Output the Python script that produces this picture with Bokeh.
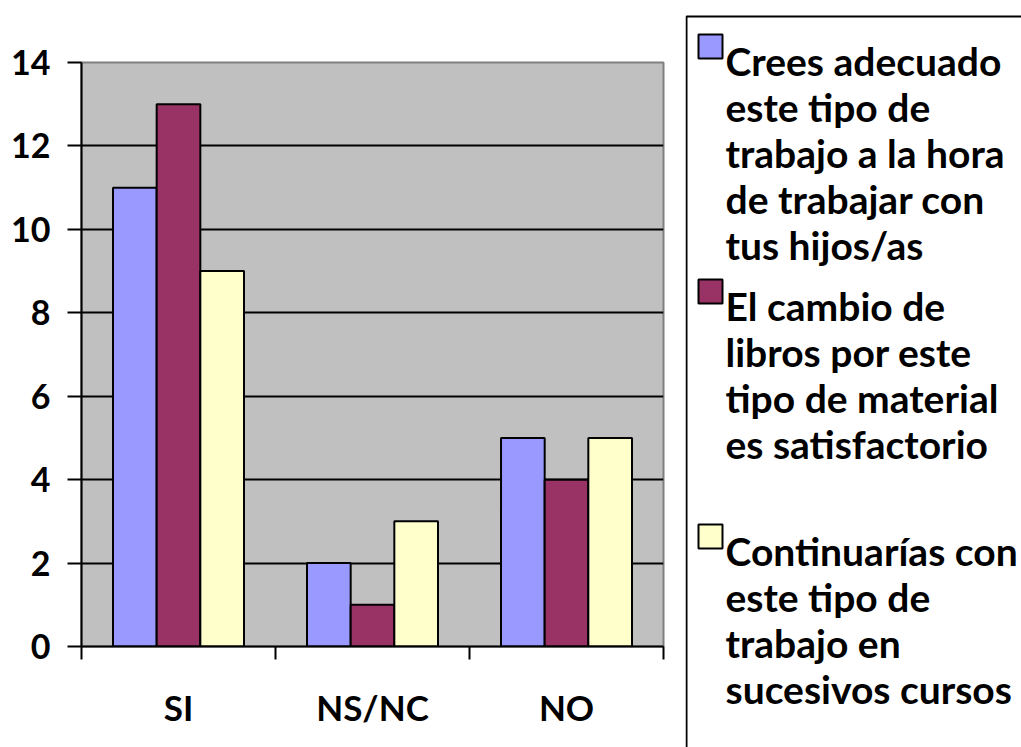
from bokeh.plotting import figure
from bokeh.models import (Range1d, LinearAxis, FixedTicker, ColumnDataSource)
from bokeh.layouts import row
from bokeh.core.properties import value
from bokeh.embed import file_html
from bokeh.resources import INLINE

# ---------------- data ----------------
categories = ["SI", "NS/NC", "NO"]
crees_adecuado = [11, 2, 5]
cambio_libros = [13, 1, 4]
continuarias = [9, 3, 5]
y_ticks = [0, 2, 4, 6, 8, 10, 12, 14]

legend_lines = [
    ["Crees adecuado", "este tipo de", "trabajo a la hora", "de trabajar con", "tus hijos/as"],
    ["El cambio de", "libros por este", "tipo de material", "es satisfactorio"],
    ["Continuarías con", "este tipo de", "trabajo en", "sucesivos cursos"],
]
series_values = [crees_adecuado, cambio_libros, continuarias]
series_colors = ["#9999FF", "#993366", "#FFFFCC"]
offsets = [-0.225, 0.0, 0.225]
BAR_W = 0.225

FONT = "Lato"

n = len(categories)
centers = [i + 0.5 for i in range(n)]
boundaries = list(range(n + 1))
YMAX = y_ticks[-1]

# ---------------- layout geometry (page pixels) ----------------
W, H = 1021, 747
FR_L, FR_R, FR_T, FR_B = 81, 663, 62, 646
CHART_W = 685

p = figure(width=CHART_W, height=H,
           x_range=Range1d(0, n), y_range=Range1d(0, YMAX),
           x_axis_location=None, y_axis_location="left",
           output_backend="svg", toolbar_location=None,
           min_border_left=FR_L, min_border_right=CHART_W - FR_R,
           min_border_top=FR_T, min_border_bottom=H - FR_B)
p.background_fill_color = "#C0C0C0"
p.border_fill_color = "white"
p.outline_line_color = "#808080"
p.outline_line_width = 2

# y axis
ya = p.yaxis[0]
ya.ticker = FixedTicker(ticks=y_ticks)
ya.major_tick_out = 14
ya.major_tick_in = 0
ya.minor_tick_out = 0
ya.minor_tick_in = 0
ya.axis_line_color = "black"
ya.axis_line_width = 2
ya.major_tick_line_color = "black"
ya.major_tick_line_width = 2
ya.major_label_standoff = 17
ya.major_label_text_font = FONT
ya.major_label_text_font_style = "bold"
ya.major_label_text_font_size = "34px"
ya.major_label_text_color = "black"

p.ygrid.ticker = FixedTicker(ticks=y_ticks[1:-1])
p.ygrid.grid_line_color = "black"
p.ygrid.grid_line_width = 2
p.xgrid.visible = False

# x axis: labels at category centers, tick marks (minor) at boundaries
xa = LinearAxis(ticker=FixedTicker(ticks=centers, minor_ticks=boundaries),
                major_label_overrides={c: lab for c, lab in zip(centers, categories)},
                major_tick_out=0, major_tick_in=0,
                minor_tick_out=13, minor_tick_in=0,
                minor_tick_line_color="black", minor_tick_line_width=2,
                axis_line_color="black", axis_line_width=2,
                major_label_standoff=26,
                major_label_text_font=FONT,
                major_label_text_font_style="bold",
                major_label_text_font_size="35px",
                major_label_text_color="black")
p.add_layout(xa, "below")

for vals, col, off in zip(series_values, series_colors, offsets):
    src = ColumnDataSource(dict(x=[c + off for c in centers], top=vals))
    p.vbar(x="x", top="top", width=BAR_W, source=src,
           fill_color=col, line_color="black", line_width=2)

# ---------------- legend panel (page-pixel coordinates) ----------------
p2 = figure(width=W - CHART_W, height=H,
            x_range=Range1d(CHART_W, W), y_range=Range1d(H, 0),
            x_axis_location=None, y_axis_location=None,
            output_backend="svg", toolbar_location=None,
            min_border_left=0, min_border_right=0,
            min_border_top=0, min_border_bottom=0)
p2.outline_line_color = None
p2.grid.visible = False

for fig in (p, p2):
    try:
        fig.frame_align = False
    except Exception:
        pass

p2.quad(left=[686], right=[1300], top=[16], bottom=[900],
        fill_color=None, line_color="black", line_width=2)

first_baselines = [60, 305, 550]
line_step = 46
for lines, col, b0 in zip(legend_lines, series_colors, first_baselines):
    p2.rect(x=[710], y=[b0 - 14], width=24, height=24,
            fill_color=col, line_color="black", line_width=2)
    ys = [b0 + i * line_step for i in range(len(lines))]
    p2.text(x=[725] * len(lines), y=ys, text=lines,
            text_font=value(FONT), text_font_style="bold",
            text_font_size="39px", text_color="black",
            text_baseline="alphabetic", text_align="left")

layout = row(p, p2)
open("out.html", "w").write(file_html(layout, INLINE))
